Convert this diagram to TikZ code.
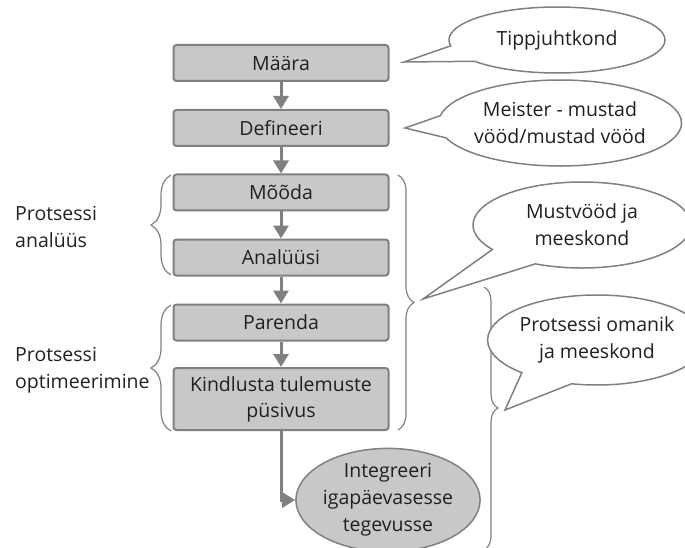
\documentclass[tikz,border=0pt]{standalone}
\usepackage{fontspec}
\setmainfont{Open Sans}
\usetikzlibrary{arrows.meta,shapes.geometric,shapes.callouts,decorations.pathreplacing}

\definecolor{boxfill}{RGB}{200,200,200}
\definecolor{boxline}{RGB}{128,128,128}
\definecolor{textcol}{RGB}{35,31,32}

\tikzset{
  stepbox/.style={draw=boxline, fill=boxfill, line width=2pt, rounded corners=3pt,
    minimum width=215pt, minimum height=36pt, inner sep=0pt, align=center,
    text=textcol, font=\fontsize{19.5}{26}\selectfont},
  flow/.style={draw=boxline, line width=3pt, -{Triangle[width=15pt,length=13pt]}},
  bubble/.style={ellipse callout, draw=boxline, fill=white, line width=1.5pt,
    callout pointer arc=30, inner sep=0pt, align=center, text=textcol,
    font=\fontsize{19.5}{27}\selectfont},
  curly/.style={draw=boxline, line width=1.2pt, decorate,
    decoration={brace, amplitude=#1}},
  sidelabel/.style={anchor=west, align=left, inner sep=0pt, text=textcol,
    font=\fontsize{19.5}{27}\selectfont}
}

\begin{document}
\begin{tikzpicture}[x=1pt, y=-1pt]
  \useasboundingbox (0,0) rectangle (685,548);

  % Process steps
  \node[stepbox] (maara) at (281,63) {Määra};
  \node[stepbox] (defineeri) at (281,128) {Defineeri};
  \node[stepbox] (mooda) at (281,192.5) {Mõõda};
  \node[stepbox] (analyysi) at (281,257.5) {Analüüsi};
  \node[stepbox] (parenda) at (281,322.5) {Parenda};
  \node[stepbox, minimum height=62pt] (kindlusta) at (281,399) {Kindlusta tulemuste\\püsivus};
  \node[ellipse, draw=boxline, fill=boxfill, line width=1.5pt, minimum width=166pt,
    minimum height=100pt, inner sep=0pt, align=center, text=textcol,
    font=\fontsize{19.5}{27}\selectfont] (integreeri) at (388,500)
    {Integreeri\\igapäevasesse\\tegevusse};

  % Arrows between steps
  \draw[flow] (maara) -- (defineeri);
  \draw[flow] (defineeri) -- (mooda);
  \draw[flow] (mooda) -- (analyysi);
  \draw[flow] (analyysi) -- (parenda);
  \draw[flow] (parenda) -- (kindlusta);
  \draw[flow] (kindlusta.south) |- (integreeri.west);

  % Left braces and their labels
  \draw[curly=20pt] (171,275) -- (171,175);
  \draw[curly=20pt] (171,431) -- (171,305);
  \node[sidelabel] (analyys) at (15,227) {Protsessi\\analüüs};
  \node[sidelabel] (optimeerimine) at (15,370) {Protsessi\\optimeerimine};

  % Right braces
  \draw[curly=16pt] (398,175) -- (398,430);
  \draw[draw=boxline, line width=1.2pt, decorate,
    decoration={brace, amplitude=14pt, aspect=0.46}] (484,287) -- (484,550);

  % Speech bubbles
  \coordinate (tipTop) at (404,62);
  \coordinate (tipMeister) at (405,128);
  \coordinate (tipMust) at (423,299);
  \coordinate (tipOmanik) at (505,410);
  \node[bubble, minimum width=216pt, minimum height=66pt,
    callout absolute pointer=(tipTop)] (tippjuht) at (557,40) {Tippjuhtkond};
  \node[bubble, minimum width=216pt, minimum height=86pt,
    callout absolute pointer=(tipMeister)] (meister) at (560,123)
    {Meister - mustad\\vööd/mustad vööd};
  \node[bubble, minimum width=218pt, minimum height=86pt,
    callout absolute pointer=(tipMust)] (mustvood) at (582,225)
    {Mustvööd ja\\meeskond};
  \node[bubble, minimum width=190pt, minimum height=90pt,
    callout absolute pointer=(tipOmanik)] (omanik) at (597,340)
    {Protsessi omanik\\ja meeskond};
\end{tikzpicture}
\end{document}
